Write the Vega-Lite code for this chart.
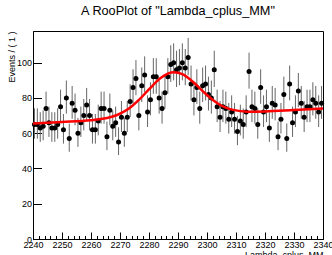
{
  "$schema": "https://vega.github.io/schema/vega-lite/v6.json",
  "autosize": {"type": "none"},
  "padding": {"left": 33, "top": 31, "right": 9, "bottom": 16},
  "width": 290,
  "height": 208,
  "background": "white",
  "title": {"text": "A RooPlot of \"Lambda_cplus_MM\"", "font": "Liberation Sans", "fontSize": 12.7, "fontWeight": "normal", "color": "black", "offset": 13, "anchor": "middle", "frame": "group"},
  "config": {
    "view": {"stroke": "black", "strokeWidth": 1},
    "axisY": {
      "values": [0,4,8,12,16,20,24,28,32,36,40,44,48,52,56,60,64,68,72,76,80,84,88,92,96,100,104,108,112,116],
      "format": "d",
      "labelFont": "Liberation Sans Narrow, Liberation Sans",
      "labelFontSize": 9,
      "labelColor": "black",
      "labelOverlap": false,
      "tickColor": "black",
      "domainColor": "black",
      "grid": false,
      "titleAnchor": "end",
      "titleFont": "Liberation Sans",
      "titleFontSize": 9,
      "titleFontWeight": "normal",
      "titleColor": "black",
      "titlePadding": 0
    }
  },
  "datasets": {
    "bins": [
      {"x": 2240.5, "n": 65, "lo": 56.9, "hi": 74.1},
      {"x": 2241.5, "n": 65, "lo": 56.9, "hi": 74.1},
      {"x": 2242.5, "n": 63, "lo": 55.1, "hi": 71.9},
      {"x": 2243.5, "n": 64, "lo": 56.0, "hi": 73.0},
      {"x": 2244.5, "n": 74, "lo": 65.4, "hi": 83.6},
      {"x": 2245.5, "n": 66, "lo": 57.9, "hi": 75.1},
      {"x": 2246.5, "n": 63, "lo": 55.1, "hi": 71.9},
      {"x": 2247.5, "n": 63, "lo": 55.1, "hi": 71.9},
      {"x": 2248.5, "n": 65, "lo": 56.9, "hi": 74.1},
      {"x": 2249.5, "n": 75, "lo": 66.3, "hi": 84.7},
      {"x": 2250.5, "n": 62, "lo": 54.1, "hi": 70.9},
      {"x": 2251.5, "n": 80, "lo": 71.1, "hi": 89.9},
      {"x": 2252.5, "n": 57, "lo": 49.5, "hi": 65.5},
      {"x": 2253.5, "n": 77, "lo": 68.2, "hi": 86.8},
      {"x": 2254.5, "n": 73, "lo": 64.5, "hi": 82.5},
      {"x": 2255.5, "n": 60, "lo": 52.3, "hi": 68.7},
      {"x": 2256.5, "n": 66, "lo": 57.9, "hi": 75.1},
      {"x": 2257.5, "n": 70, "lo": 61.6, "hi": 79.4},
      {"x": 2258.5, "n": 76, "lo": 67.3, "hi": 85.7},
      {"x": 2259.5, "n": 70, "lo": 61.6, "hi": 79.4},
      {"x": 2260.5, "n": 62, "lo": 54.1, "hi": 70.9},
      {"x": 2261.5, "n": 62, "lo": 54.1, "hi": 70.9},
      {"x": 2262.5, "n": 67, "lo": 58.8, "hi": 76.2},
      {"x": 2263.5, "n": 74, "lo": 65.4, "hi": 83.6},
      {"x": 2264.5, "n": 74, "lo": 65.4, "hi": 83.6},
      {"x": 2265.5, "n": 58, "lo": 50.4, "hi": 66.6},
      {"x": 2266.5, "n": 73, "lo": 64.5, "hi": 82.5},
      {"x": 2267.5, "n": 64, "lo": 56.0, "hi": 73.0},
      {"x": 2268.5, "n": 66, "lo": 57.9, "hi": 75.1},
      {"x": 2269.5, "n": 55, "lo": 47.6, "hi": 63.4},
      {"x": 2270.5, "n": 69, "lo": 60.7, "hi": 78.3},
      {"x": 2271.5, "n": 60, "lo": 52.3, "hi": 68.7},
      {"x": 2272.5, "n": 69, "lo": 60.7, "hi": 78.3},
      {"x": 2273.5, "n": 78, "lo": 69.2, "hi": 87.8},
      {"x": 2274.5, "n": 86, "lo": 76.7, "hi": 96.3},
      {"x": 2275.5, "n": 91, "lo": 81.5, "hi": 101.5},
      {"x": 2276.5, "n": 70, "lo": 61.6, "hi": 79.4},
      {"x": 2277.5, "n": 87, "lo": 77.7, "hi": 97.3},
      {"x": 2278.5, "n": 93, "lo": 83.4, "hi": 103.6},
      {"x": 2279.5, "n": 72, "lo": 63.5, "hi": 81.5},
      {"x": 2280.5, "n": 79, "lo": 70.1, "hi": 88.9},
      {"x": 2281.5, "n": 92, "lo": 82.4, "hi": 102.6},
      {"x": 2282.5, "n": 92, "lo": 82.4, "hi": 102.6},
      {"x": 2283.5, "n": 80, "lo": 71.1, "hi": 89.9},
      {"x": 2284.5, "n": 74, "lo": 65.4, "hi": 83.6},
      {"x": 2285.5, "n": 83, "lo": 73.9, "hi": 93.1},
      {"x": 2286.5, "n": 92, "lo": 82.4, "hi": 102.6},
      {"x": 2287.5, "n": 99, "lo": 89.1, "hi": 109.9},
      {"x": 2288.5, "n": 100, "lo": 90.0, "hi": 111.0},
      {"x": 2289.5, "n": 96, "lo": 86.2, "hi": 106.8},
      {"x": 2290.5, "n": 97, "lo": 87.2, "hi": 107.8},
      {"x": 2291.5, "n": 100, "lo": 90.0, "hi": 111.0},
      {"x": 2292.5, "n": 97, "lo": 87.2, "hi": 107.8},
      {"x": 2293.5, "n": 103, "lo": 92.9, "hi": 114.1},
      {"x": 2294.5, "n": 88, "lo": 78.6, "hi": 98.4},
      {"x": 2295.5, "n": 79, "lo": 70.1, "hi": 88.9},
      {"x": 2296.5, "n": 86, "lo": 76.7, "hi": 96.3},
      {"x": 2297.5, "n": 74, "lo": 65.4, "hi": 83.6},
      {"x": 2298.5, "n": 87, "lo": 77.7, "hi": 97.3},
      {"x": 2299.5, "n": 88, "lo": 78.6, "hi": 98.4},
      {"x": 2300.5, "n": 82, "lo": 72.9, "hi": 92.1},
      {"x": 2301.5, "n": 80, "lo": 71.1, "hi": 89.9},
      {"x": 2302.5, "n": 96, "lo": 86.2, "hi": 106.8},
      {"x": 2303.5, "n": 75, "lo": 66.3, "hi": 84.7},
      {"x": 2304.5, "n": 69, "lo": 60.7, "hi": 78.3},
      {"x": 2305.5, "n": 75, "lo": 66.3, "hi": 84.7},
      {"x": 2306.5, "n": 74, "lo": 65.4, "hi": 83.6},
      {"x": 2307.5, "n": 68, "lo": 59.8, "hi": 77.2},
      {"x": 2308.5, "n": 72, "lo": 63.5, "hi": 81.5},
      {"x": 2309.5, "n": 68, "lo": 59.8, "hi": 77.2},
      {"x": 2310.5, "n": 61, "lo": 53.2, "hi": 69.8},
      {"x": 2311.5, "n": 67, "lo": 58.8, "hi": 76.2},
      {"x": 2312.5, "n": 65, "lo": 56.9, "hi": 74.1},
      {"x": 2313.5, "n": 72, "lo": 63.5, "hi": 81.5},
      {"x": 2314.5, "n": 95, "lo": 85.3, "hi": 105.7},
      {"x": 2315.5, "n": 75, "lo": 66.3, "hi": 84.7},
      {"x": 2316.5, "n": 74, "lo": 65.4, "hi": 83.6},
      {"x": 2317.5, "n": 65, "lo": 56.9, "hi": 74.1},
      {"x": 2318.5, "n": 86, "lo": 76.7, "hi": 96.3},
      {"x": 2319.5, "n": 72, "lo": 63.5, "hi": 81.5},
      {"x": 2320.5, "n": 75, "lo": 66.3, "hi": 84.7},
      {"x": 2321.5, "n": 63, "lo": 55.1, "hi": 71.9},
      {"x": 2322.5, "n": 77, "lo": 68.2, "hi": 86.8},
      {"x": 2323.5, "n": 76, "lo": 67.3, "hi": 85.7},
      {"x": 2324.5, "n": 58, "lo": 50.4, "hi": 66.6},
      {"x": 2325.5, "n": 68, "lo": 59.8, "hi": 77.2},
      {"x": 2326.5, "n": 82, "lo": 72.9, "hi": 92.1},
      {"x": 2327.5, "n": 57, "lo": 49.5, "hi": 65.5},
      {"x": 2328.5, "n": 88, "lo": 78.6, "hi": 98.4},
      {"x": 2329.5, "n": 66, "lo": 57.9, "hi": 75.1},
      {"x": 2330.5, "n": 72, "lo": 63.5, "hi": 81.5},
      {"x": 2331.5, "n": 84, "lo": 74.8, "hi": 94.2},
      {"x": 2332.5, "n": 77, "lo": 68.2, "hi": 86.8},
      {"x": 2333.5, "n": 69, "lo": 60.7, "hi": 78.3},
      {"x": 2334.5, "n": 75, "lo": 66.3, "hi": 84.7},
      {"x": 2335.5, "n": 75, "lo": 66.3, "hi": 84.7},
      {"x": 2336.5, "n": 79, "lo": 70.1, "hi": 88.9},
      {"x": 2337.5, "n": 77, "lo": 68.2, "hi": 86.8},
      {"x": 2338.5, "n": 72, "lo": 63.5, "hi": 81.5},
      {"x": 2339.5, "n": 77, "lo": 68.2, "hi": 86.8}
    ],
    "curve": [
      {"x": 2240, "y": 65.5},
      {"x": 2250, "y": 66.35},
      {"x": 2260, "y": 67.37},
      {"x": 2264, "y": 68.16},
      {"x": 2269, "y": 70.36},
      {"x": 2271.5, "y": 72.38},
      {"x": 2274, "y": 75.22},
      {"x": 2276.5, "y": 78.88},
      {"x": 2279, "y": 83.14},
      {"x": 2281.5, "y": 87.5},
      {"x": 2284, "y": 91.3},
      {"x": 2286.5, "y": 93.84},
      {"x": 2288.5, "y": 94.62},
      {"x": 2291.5, "y": 93.53},
      {"x": 2294, "y": 90.83},
      {"x": 2296.5, "y": 87.14},
      {"x": 2299, "y": 83.17},
      {"x": 2301.5, "y": 79.54},
      {"x": 2304, "y": 76.61},
      {"x": 2306.5, "y": 74.53},
      {"x": 2309, "y": 73.24},
      {"x": 2314, "y": 72.24},
      {"x": 2320, "y": 72.35},
      {"x": 2330, "y": 73.15},
      {"x": 2340, "y": 74.0}
    ]
  },
  "encoding": {
    "x": {
      "field": "x", "type": "quantitative",
      "scale": {"domain": [2240, 2340], "nice": false, "zero": false},
      "axis": {
        "title": "Lambda_cplus_MM",
        "values": [2240,2242,2244,2246,2248,2250,2252,2254,2256,2258,2260,2262,2264,2266,2268,2270,2272,2274,2276,2278,2280,2282,2284,2286,2288,2290,2292,2294,2296,2298,2300,2302,2304,2306,2308,2310,2312,2314,2316,2318,2320,2322,2324,2326,2328,2330,2332,2334,2336,2338,2340],
        "format": "d",
        "labelExpr": "datum.value % 10 === 0 ? datum.label : ''",
        "labelFont": "Liberation Sans Narrow, Liberation Sans",
        "labelFontSize": 9,
        "labelColor": "black",
        "labelPadding": 8,
        "labelFlush": false,
        "labelOverlap": false,
        "tickSize": {"condition": {"test": "datum.value % 10 === 0", "value": -7}, "value": -3.5},
        "tickColor": "black",
        "domainColor": "black",
        "grid": false,
        "titleAnchor": "end",
        "titleFont": "Liberation Sans Narrow, Liberation Sans",
        "titleFontSize": 9,
        "titleFontWeight": "normal",
        "titleColor": "black",
        "titlePadding": -2
      }
    }
  },
  "layer": [
    {
      "data": {"name": "bins"},
      "mark": {"type": "rule", "color": "#666", "strokeWidth": 1},
      "encoding": {
        "y": {
          "field": "lo", "type": "quantitative",
          "scale": {"domain": [0, 118], "nice": false, "zero": true},
          "axis": {
            "title": "Events / ( 1 )",
            "labelExpr": "datum.value % 20 === 0 ? datum.label : ''",
            "labelPadding": 10,
            "tickSize": {"condition": {"test": "datum.value % 20 === 0", "value": -8.5}, "value": -4.3}
          }
        },
        "y2": {"field": "hi"}
      }
    },
    {
      "data": {"name": "bins"},
      "mark": {"type": "point", "filled": true, "color": "black", "size": 25, "opacity": 1},
      "encoding": {
        "y": {
          "field": "n", "type": "quantitative",
          "axis": {
            "title": "Events / ( 1 )",
            "labelExpr": "datum.value % 20 === 0 ? datum.label : ''",
            "labelPadding": 10,
            "tickSize": {"condition": {"test": "datum.value % 20 === 0", "value": -8.5}, "value": -4.3}
          }
        }
      }
    },
    {
      "data": {"name": "curve"},
      "mark": {"type": "line", "color": "#ff0000", "strokeWidth": 2.5, "interpolate": "monotone"},
      "encoding": {
        "y": {
          "field": "y", "type": "quantitative",
          "axis": {
            "title": "Events / ( 1 )",
            "labelExpr": "datum.value % 20 === 0 ? datum.label : ''",
            "labelPadding": 10,
            "tickSize": {"condition": {"test": "datum.value % 20 === 0", "value": -8.5}, "value": -4.3}
          }
        }
      }
    }
  ]
}
